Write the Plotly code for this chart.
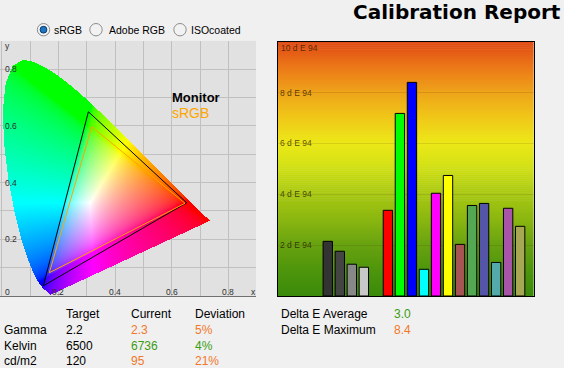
import numpy as np
import plotly.graph_objects as go

W, H = 564, 368

# ---------------- data ----------------
# CIE 1931 spectral locus (380-700 nm)
locus_x = [0.1741, 0.1740, 0.1738, 0.1736, 0.1733, 0.1730, 0.1726, 0.1721, 0.1714, 0.1703,
           0.1689, 0.1669, 0.1644, 0.1611, 0.1566, 0.1510, 0.1440, 0.1355, 0.1241, 0.1096,
           0.0913, 0.0687, 0.0454, 0.0235, 0.0082, 0.0039, 0.0139, 0.0389, 0.0743, 0.1142,
           0.1547, 0.1929, 0.2296, 0.2658, 0.3016, 0.3373, 0.3731, 0.4087, 0.4441, 0.4788,
           0.5125, 0.5448, 0.5752, 0.6029, 0.6270, 0.6482, 0.6658, 0.6801, 0.6915, 0.7006,
           0.7079, 0.7140, 0.7190, 0.7230, 0.7260, 0.7283, 0.7300, 0.7311, 0.7320, 0.7334,
           0.7344, 0.7347]
locus_y = [0.0050, 0.0050, 0.0049, 0.0049, 0.0048, 0.0048, 0.0048, 0.0048, 0.0051, 0.0058,
           0.0069, 0.0086, 0.0109, 0.0138, 0.0177, 0.0227, 0.0297, 0.0399, 0.0578, 0.0868,
           0.1327, 0.2007, 0.2950, 0.4127, 0.5384, 0.6548, 0.7502, 0.8120, 0.8338, 0.8262,
           0.8059, 0.7816, 0.7543, 0.7243, 0.6923, 0.6589, 0.6245, 0.5896, 0.5547, 0.5202,
           0.4866, 0.4544, 0.4242, 0.3965, 0.3725, 0.3514, 0.3340, 0.3197, 0.3083, 0.2993,
           0.2920, 0.2859, 0.2809, 0.2770, 0.2740, 0.2717, 0.2700, 0.2689, 0.2680, 0.2666,
           0.2656, 0.2653]

monitor_x = [0.306, 0.653, 0.147]
monitor_y = [0.650, 0.329, 0.036]
srgb_x = [0.318, 0.647, 0.168]
srgb_y = [0.597, 0.327, 0.082]

cie_ticks = [0.2, 0.4, 0.6, 0.8]
cie_tick_labels = ["0.2", "0.4", "0.6", "0.8"]

patch_order = ["Black", "Gray 25", "Gray 50", "Gray 75", " ", "Red", "Green", "Blue", "Cyan",
               "Magenta", "Yellow", "Dark Skin", "Foliage", "Blue Flower", "Bluish Green",
               "Purple", "Olive"]
patch_names = ["Black", "Gray 25", "Gray 50", "Gray 75", "Red", "Green", "Blue", "Cyan",
               "Magenta", "Yellow", "Dark Skin", "Foliage", "Blue Flower", "Bluish Green",
               "Purple", "Olive"]
delta_e = [2.15, 1.76, 1.25, 1.13, 3.37, 7.18, 8.40, 1.05, 4.04, 4.74, 2.03, 3.56, 3.64,
           1.32, 3.45, 2.74]
patch_colors = ["#333333", "#444444", "#888888", "#c8c8c8", "#ff0000", "#00ff00", "#0000ff",
                "#00ffff", "#ff00ff", "#ffff00", "#a85454", "#54a854", "#5454a8", "#54aaaa",
                "#a854a8", "#a8a854"]

de_ticks = [2, 4, 6, 8, 10]
de_tick_labels = ["2 d E 94", "4 d E 94", "6 d E 94", "8 d E 94", "10 d E 94"]

grad_stops = [0, 1, 2, 3, 4, 5, 6, 7, 8, 9, 10]
grad_colors = ["#3a8a0a", "#4e950c", "#68a210", "#8ab610", "#a8c812", "#d0e014",
               "#ece818", "#f0c818", "#eea41a", "#ec7818", "#e04a14"]

table_cols = ["Target", "Current", "Deviation"]
row_names = ["Gamma", "Kelvin", "cd/m2"]
target_vals = ["2.2", "6500", "120"]
current_vals = ["2.3", "6736", "95"]
deviation_vals = ["5%", "4%", "21%"]
row_status = ["warn", "ok", "warn"]
summary_labels = ["Delta E Average", "Delta E Maximum"]
summary_vals = ["3.0", "8.4"]
summary_status = ["ok", "warn"]
status_color = {"ok": "#3c9c10", "warn": "#f07828"}

radio_labels = ["sRGB", "Adobe RGB", "ISOcoated"]
radio_selected = [True, False, False]

# ---------------- helpers ----------------
def px(x):
    return x / W


def py(y):
    return 1 - y / H


FONT = "Liberation Sans, Arial, sans-serif"

# CIE axis geometry
cie_xr = [-0.006, 0.8976]
cie_yr = [0.0, 0.9]

# ---------------- horseshoe image ----------------
nx, ny = 256, 255
dx = (cie_xr[1] - cie_xr[0]) / nx
dy = (cie_yr[1] - cie_yr[0]) / ny
xs = cie_xr[0] + dx * (np.arange(nx) + 0.5)
ys = cie_yr[0] + dy * (np.arange(ny) + 0.5)
GX, GY = np.meshgrid(xs, ys)
lx = np.array(locus_x)
ly = np.array(locus_y)
inside = np.zeros(GX.shape, dtype=bool)
n = len(lx)
j = n - 1
with np.errstate(divide="ignore", invalid="ignore"):
    for i in range(n):
        xi, yi, xj, yj = lx[i], ly[i], lx[j], ly[j]
        if yj != yi:
            cond = ((yi > GY) != (yj > GY)) & (GX < (xj - xi) * (GY - yi) / (yj - yi) + xi)
            inside ^= cond
        j = i
    Yc = np.maximum(GY, 1e-6)
    Xc = GX / Yc
    Zc = (1 - GX - GY) / Yc
    r = 3.2406 * Xc - 1.5372 - 0.4986 * Zc
    g = -0.9689 * Xc + 1.8758 + 0.0415 * Zc
    b = 0.0557 * Xc - 0.2040 + 1.0570 * Zc
    rgb = np.clip(np.stack([r, g, b], -1), 0, None)
    m = rgb.max(-1, keepdims=True)
    m[m == 0] = 1
    rgb = rgb / m
    rgb = np.where(rgb <= 0.0031308, 12.92 * rgb, 1.055 * np.power(rgb, 1 / 2.4) - 0.055)
rgb8 = np.round(np.clip(rgb, 0, 1) * 255).astype(int)
alpha = inside.astype(int)[..., None]
img = np.concatenate([rgb8, alpha], -1)

fig = go.Figure()

fig.add_trace(go.Image(z=img.tolist(), colormodel="rgba", x0=xs[0], dx=dx, y0=ys[0], dy=dy,
                       xaxis="x", yaxis="y", hoverinfo="skip"))

fig.add_trace(go.Scatter(x=monitor_x + monitor_x[:1], y=monitor_y + monitor_y[:1], mode="lines",
                         line=dict(color="#000000", width=1), xaxis="x", yaxis="y",
                         hoverinfo="skip", showlegend=False))
fig.add_trace(go.Scatter(x=srgb_x + srgb_x[:1], y=srgb_y + srgb_y[:1], mode="lines",
                         line=dict(color="#ffa500", width=1), xaxis="x", yaxis="y",
                         hoverinfo="skip", showlegend=False))

# ---------------- bar chart ----------------
fig.add_trace(go.Bar(x=patch_names, y=delta_e, marker=dict(color=patch_colors,
                     line=dict(color="#000000", width=1)), width=0.78,
                     xaxis="x2", yaxis="y2", showlegend=False, hoverinfo="skip"))

# gradient background bands (below gridlines)
def hex2rgb(h):
    return np.array([int(h[k:k + 2], 16) for k in (1, 3, 5)], dtype=float)

stop_rgb = np.array([hex2rgb(c) for c in grad_colors])
nb = 128
edges = np.linspace(0, 10, nb + 1)
shapes = []
for k in range(nb):
    mid = 0.5 * (edges[k] + edges[k + 1])
    col = [np.interp(mid, grad_stops, stop_rgb[:, c]) for c in range(3)]
    shapes.append(dict(type="rect", xref="x2 domain", yref="y2", x0=0, x1=1,
                       y0=edges[k], y1=edges[k + 1] + 0.02, layer="below",
                       line=dict(width=0),
                       fillcolor="rgb(%d,%d,%d)" % tuple(int(round(v)) for v in col)))

# radio buttons
radio_cx = [43.5, 96, 180]
radio_tx = [52.5, 107.5, 190]
annotations = []
for cx, tx, lab, sel in zip(radio_cx, radio_tx, radio_labels, radio_selected):
    rr = 6.2
    shapes.append(dict(type="circle", xref="paper", yref="paper", x0=px(cx - rr), x1=px(cx + rr),
                       y0=py(29.7 + rr), y1=py(29.7 - rr), fillcolor="#f2f2f2",
                       line=dict(color="#8c8c8c", width=1), layer="above"))
    if sel:
        ri = 3.4
        shapes.append(dict(type="circle", xref="paper", yref="paper", x0=px(cx - ri),
                           x1=px(cx + ri), y0=py(29.7 + ri), y1=py(29.7 - ri),
                           fillcolor="#1f74c4", line=dict(color="#0c3c6c", width=1),
                           layer="above"))
    annotations.append(dict(text=lab, xref="paper", yref="paper", x=px(tx), y=py(29.7),
                            xanchor="left", yanchor="middle", showarrow=False, borderpad=0,
                            font=dict(family=FONT, size=10.5, color="#000000")))

# title
annotations.append(dict(text="<b>Calibration Report</b>", xref="paper", yref="paper",
                        x=px(562), y=py(12.5), xanchor="right", yanchor="middle",
                        showarrow=False, borderpad=0,
                        font=dict(family="DejaVu Sans, sans-serif", size=20, color="#000000")))

# legend labels in CIE chart
annotations.append(dict(text="<b>Monitor</b>", xref="paper", yref="paper", x=px(171), y=py(97.7),
                        xanchor="left", yanchor="middle", showarrow=False, borderpad=0,
                        font=dict(family=FONT, size=13, color="#000000")))
annotations.append(dict(text="sRGB", xref="paper", yref="paper", x=px(171), y=py(113.3),
                        xanchor="left", yanchor="middle", showarrow=False, borderpad=0,
                        font=dict(family=FONT, size=14, color="#ffa500")))

# CIE tick labels
cie_font = dict(family=FONT, size=8.5, color="#303030")
for v, t in zip(cie_ticks, cie_tick_labels):
    annotations.append(dict(text=t, xref="paper", yref="y", x=px(3.5), y=v, xanchor="left",
                            yanchor="middle", showarrow=False, borderpad=0, font=cie_font))
    annotations.append(dict(text=t, xref="x", yref="paper", x=v, y=py(291.5), xanchor="center",
                            yanchor="middle", showarrow=False, borderpad=0, font=cie_font))
annotations.append(dict(text="0", xref="paper", yref="paper", x=px(3.5), y=py(291.5),
                        xanchor="left", yanchor="middle", showarrow=False, borderpad=0,
                        font=cie_font))
annotations.append(dict(text="x", xref="paper", yref="paper", x=px(249.5), y=py(291.5),
                        xanchor="left", yanchor="middle", showarrow=False, borderpad=0,
                        font=cie_font))
annotations.append(dict(text="y", xref="paper", yref="paper", x=px(3.5), y=py(46),
                        xanchor="left", yanchor="middle", showarrow=False, borderpad=0,
                        font=cie_font))

# delta E tick labels
de_font = dict(family=FONT, size=8.5, color="rgba(30,15,0,0.72)")
for v, t in zip(de_ticks, de_tick_labels):
    if v == max(de_ticks):
        annotations.append(dict(text=t, xref="paper", yref="y2", x=px(279.5), y=v,
                                xanchor="left", yanchor="top", yshift=-0.5, showarrow=False,
                                borderpad=0, font=de_font))
    else:
        annotations.append(dict(text=t, xref="paper", yref="y2", x=px(279), y=v,
                                xanchor="left", yanchor="middle", showarrow=False, borderpad=0,
                                font=de_font))

# bottom table
tfont = 12
col_x = [64.5, 129.5, 194]
row_y = [313.5, 329.5, 345.5, 361]
for cxp, t in zip(col_x, table_cols):
    annotations.append(dict(text=t, xref="paper", yref="paper", x=px(cxp), y=py(row_y[0]),
                            xanchor="left", yanchor="middle", showarrow=False, borderpad=0,
                            font=dict(family=FONT, size=tfont, color="#000000")))
for k, name in enumerate(row_names):
    yy = py(row_y[k + 1])
    col = status_color[row_status[k]]
    for xx, txt, c in [(2.5, name, "#000000"), (col_x[0], target_vals[k], "#000000"),
                       (col_x[1], current_vals[k], col), (col_x[2], deviation_vals[k], col)]:
        annotations.append(dict(text=txt, xref="paper", yref="paper", x=px(xx), y=yy,
                                xanchor="left", yanchor="middle", showarrow=False, borderpad=0,
                                font=dict(family=FONT, size=tfont, color=c)))
for k, lab in enumerate(summary_labels):
    yy = py(row_y[k])
    annotations.append(dict(text=lab, xref="paper", yref="paper", x=px(279.5), y=yy,
                            xanchor="left", yanchor="middle", showarrow=False, borderpad=0,
                            font=dict(family=FONT, size=tfont, color="#000000")))
    annotations.append(dict(text=summary_vals[k], xref="paper", yref="paper", x=px(392.5), y=yy,
                            xanchor="left", yanchor="middle", showarrow=False, borderpad=0,
                            font=dict(family=FONT, size=tfont,
                                      color=status_color[summary_status[k]])))

fig.update_layout(
    width=W, height=H, margin=dict(l=0, r=0, t=0, b=0),
    paper_bgcolor="#f0f0f0", plot_bgcolor="#e1e1e1",
    showlegend=False,
    shapes=shapes, annotations=annotations,
    xaxis=dict(domain=[0, px(256)], range=cie_xr, autorange=False, dtick=0.1, tick0=0,
               showticklabels=False, ticks="", gridcolor="#c0c0c0", gridwidth=1,
               zeroline=False, showline=True, linecolor="#707070", linewidth=1,
               anchor="y", fixedrange=True),
    yaxis=dict(domain=[py(296), py(40.9)], range=cie_yr, autorange=False, dtick=0.1, tick0=0,
               showticklabels=False, ticks="", gridcolor="#c0c0c0", gridwidth=1,
               zeroline=False, showline=False, anchor="x", scaleanchor=False,
               fixedrange=True),
    xaxis2=dict(domain=[px(278), px(533.5)], range=[-4.14, 17.11], autorange=False,
                type="category", categoryorder="array", categoryarray=patch_order,
                showticklabels=False, ticks="", showgrid=False, zeroline=False,
                showline=True, mirror=True, linecolor="#000000", linewidth=1, anchor="y2"),
    yaxis2=dict(domain=[py(296), py(41.7)], range=[0, 10], autorange=False, dtick=2,
                showticklabels=False, ticks="", gridcolor="rgba(60,30,0,0.13)", gridwidth=1,
                zeroline=False, showline=True, mirror=True, linecolor="#000000",
                linewidth=1, anchor="x2"),
    bargap=0.2,
)

fig.write_html("out.html", config={"displayModeBar": False},
               post_script="document.body.style.margin='0';document.body.style.background='#f0f0f0';")
